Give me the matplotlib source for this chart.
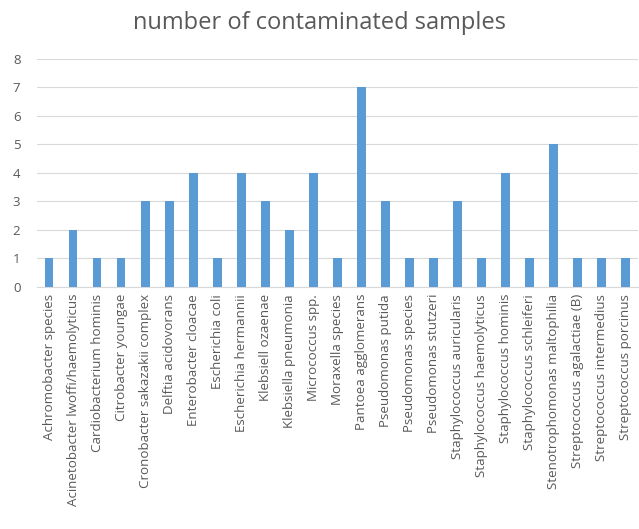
import matplotlib.pyplot as plt
import numpy as np

plt.rcParams['font.family'] = ['Open Sans', 'DejaVu Sans']

species = ['Achromobacter species', 'Acinetobacter lwoffi/haemolyticus', 'Cardiobacterium hominis',
           'Citrobacter youngae', 'Cronobacter sakazakii complex', 'Delftia acidovorans',
           'Enterobacter cloacae', 'Escherichia coli', 'Escherichia hermannii', 'Klebsiell ozaenae',
           'Klebsiella pneumonia', 'Micrococcus spp.', 'Moraxella species', 'Pantoea agglomerans',
           'Pseudomonas putida', 'Pseudomonas species', 'Pseudomonas stutzeri',
           'Staphylococcus auricularis', 'Staphylococcus haemolyticus', 'Staphylococcus hominis',
           'Staphylococcus schleiferi', 'Stenotrophomonas maltophilia', 'Streptococcus agalactiae (B)',
           'Streptococcus intermedius', 'Streptococcus porcinus']
counts = [1, 2, 1, 1, 3, 3, 4, 1, 4, 3, 2, 4, 1, 7, 3, 1, 1, 3, 1, 4, 1, 5, 1, 1, 1]

txt = '#595959'
fig = plt.figure(figsize=(6.39, 5.29), dpi=100)
ax = fig.add_axes([0.058, 0.4575, 0.94, 0.431])
x = np.arange(len(species))
ax.bar(x, counts, width=0.36, color='#5B9BD5', zorder=3)
ax.set_xlim(-0.5, len(species) - 0.5)
ax.set_ylim(0, 8)
ax.set_yticks(range(9))
ax.grid(axis='y', color='#D9D9D9', linewidth=0.8, zorder=0)
ax.set_xticks(x)
ax.set_xticklabels(species, rotation=90, fontsize=9.6, color=txt)
ax.tick_params(axis='y', labelsize=9.5, labelcolor=txt, length=0, pad=12)
ax.tick_params(axis='x', length=0, pad=5)
for s in ['top', 'right', 'left']:
    ax.spines[s].set_visible(False)
ax.spines['bottom'].set_color('#D9D9D9')
fig.suptitle('number of contaminated samples', fontsize=17, color=txt, y=0.98)
fig.savefig('out.png', dpi=100)
